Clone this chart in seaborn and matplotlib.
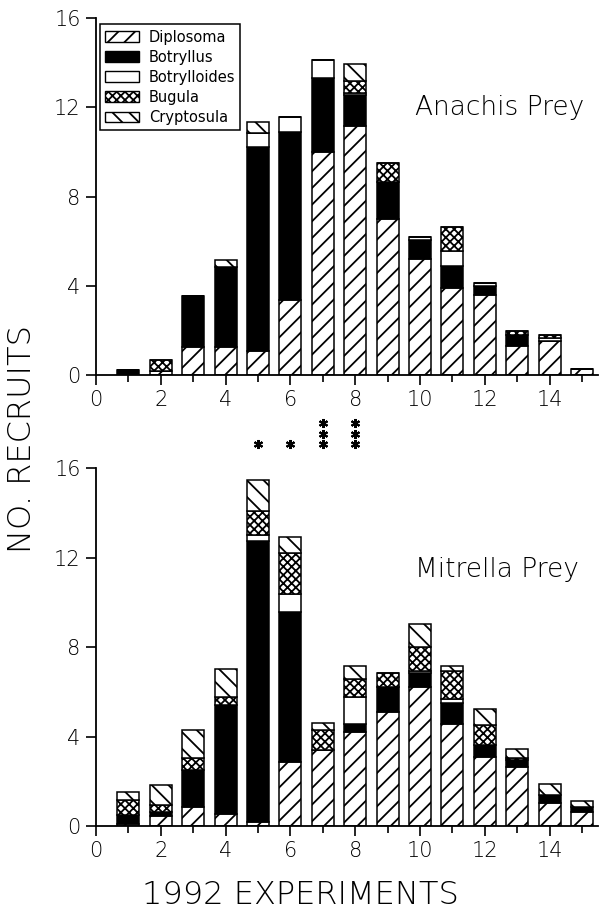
import numpy as np
import pandas as pd
import matplotlib
matplotlib.use("Agg")
import matplotlib.pyplot as plt
import matplotlib.patches as mpatches
from matplotlib.ticker import MultipleLocator
import seaborn as sns

# experiment number 1..15
experiments = [1, 2, 3, 4, 5, 6, 7, 8, 9, 10, 11, 12, 13, 14, 15]
taxa = ["Diplosoma", "Botryllus", "Botrylloides", "Bugula", "Cryptosula"]

# Anachis prey (top panel)
anachis_diplosoma = [0, 0.2, 1.25, 1.25, 1.1, 3.35, 10.0, 11.15, 7.0, 5.2, 3.9, 3.6, 1.3, 1.55, 0.27]
anachis_botryllus = [0.25, 0, 2.3, 3.6, 9.1, 7.55, 3.3, 1.4, 1.65, 0.85, 1.0, 0.4, 0.5, 0, 0]
anachis_botrylloides = [0, 0, 0, 0, 0.65, 0.65, 0.8, 0.1, 0, 0.15, 0.65, 0.15, 0, 0.1, 0]
anachis_bugula = [0, 0.47, 0, 0, 0, 0, 0, 0.55, 0.85, 0, 1.1, 0, 0.2, 0.15, 0]
anachis_cryptosula = [0, 0, 0, 0.33, 0.5, 0, 0, 0.75, 0, 0, 0, 0, 0, 0, 0]

# Mitrella prey (bottom panel)
mitrella_diplosoma = [0.1, 0.45, 0.85, 0.55, 0.2, 2.85, 3.4, 4.2, 5.1, 6.2, 4.55, 3.1, 2.65, 1.05, 0.65]
mitrella_botryllus = [0.4, 0.2, 1.65, 4.85, 12.55, 6.7, 0, 0.35, 1.1, 0.65, 0.95, 0.5, 0.3, 0.35, 0.2]
mitrella_botrylloides = [0, 0, 0, 0, 0.25, 0.8, 0, 1.2, 0, 0.1, 0.2, 0, 0, 0, 0]
mitrella_bugula = [0.65, 0.3, 0.55, 0.35, 1.1, 1.85, 0.9, 0.8, 0.65, 1.05, 1.25, 0.9, 0.1, 0, 0]
mitrella_cryptosula = [0.35, 0.9, 1.25, 1.25, 1.35, 0.7, 0.3, 0.6, 0, 1.05, 0.2, 0.75, 0.4, 0.5, 0.25]

# significance stars between panels
sig_experiments = [5, 6, 7, 8]
sig_stars = [1, 1, 3, 3]

anachis = pd.DataFrame({"exp": experiments, "Diplosoma": anachis_diplosoma,
                        "Botryllus": anachis_botryllus, "Botrylloides": anachis_botrylloides,
                        "Bugula": anachis_bugula, "Cryptosula": anachis_cryptosula})
mitrella = pd.DataFrame({"exp": experiments, "Diplosoma": mitrella_diplosoma,
                         "Botryllus": mitrella_botryllus, "Botrylloides": mitrella_botrylloides,
                         "Bugula": mitrella_bugula, "Cryptosula": mitrella_cryptosula})

styles = {
    "Diplosoma": dict(color="white", hatch="//"),
    "Botryllus": dict(color="black", hatch=None),
    "Botrylloides": dict(color="white", hatch=None),
    "Bugula": dict(color="white", hatch="xxxx"),
    "Cryptosula": dict(color="white", hatch="\\\\"),
}

sns.set_style("ticks")
plt.rcParams["font.family"] = ["DejaVu Sans"]
plt.rcParams["hatch.linewidth"] = 1.3
plt.rcParams["hatch.color"] = "black"
for k in ["text.color", "axes.labelcolor", "xtick.color", "ytick.color"]:
    plt.rcParams[k] = "black"

fig = plt.figure(figsize=(6, 9.24), dpi=100)
ax1 = fig.add_axes([0.16, 0.594, 0.837, 0.3865])
ax2 = fig.add_axes([0.16, 0.106, 0.837, 0.3875])


def stacked(ax, df):
    bottom = np.zeros(len(df))
    for t in taxa:
        st = styles[t]
        sns.barplot(x=df["exp"], y=df[t], bottom=bottom, native_scale=True,
                    width=0.68, color=st["color"], hatch=st["hatch"],
                    edgecolor="black", linewidth=1.1, saturation=1,
                    errorbar=None, ax=ax)
        bottom = bottom + df[t].values


stacked(ax1, anachis)
stacked(ax2, mitrella)

for ax in (ax1, ax2):
    ax.set_xlim(0, 15.5)
    ax.set_ylim(0, 16)
    ax.xaxis.set_major_locator(MultipleLocator(2))
    ax.xaxis.set_minor_locator(MultipleLocator(1))
    ax.yaxis.set_major_locator(MultipleLocator(4))
    ax.tick_params(axis="both", which="major", direction="out", length=7, width=1.2,
                   labelsize=15, pad=4)
    ax.tick_params(axis="x", which="minor", direction="out", length=5, width=1.2)
    for s in ["top", "right"]:
        ax.spines[s].set_visible(False)
    for s in ["left", "bottom"]:
        ax.spines[s].set_linewidth(1.3)
        ax.spines[s].set_color("black")
    ax.set_xlabel("")
    ax.set_ylabel("")
    for lab in ax.get_xticklabels() + ax.get_yticklabels():
        lab.set_fontweight("light")

ax1.text(9.85, 12.0, "Anachis Prey", fontsize=19, fontweight="light", va="center", ha="left")
ax2.text(9.85, 11.45, "Mitrella Prey", fontsize=19, fontweight="light", va="center", ha="left")

# stars below the top panel
for xe, n in zip(sig_experiments, sig_stars):
    ys = [-3.1 + 0.47 * k for k in range(n)]
    ax1.plot([xe] * n, ys, linestyle="none", marker=(6, 2, 0), markersize=6.5,
             markeredgewidth=1.5, color="black", clip_on=False)

handles = [mpatches.Patch(facecolor=styles[t]["color"], hatch=styles[t]["hatch"],
                          edgecolor="black", linewidth=1.0, label=t) for t in taxa]
leg = ax1.legend(handles=handles, loc="upper left", bbox_to_anchor=(0.008, 0.982),
                 borderaxespad=0, fontsize=10.5, frameon=True, fancybox=False,
                 handlelength=2.3, handleheight=0.75, labelspacing=0.35,
                 borderpad=0.35, handletextpad=0.7)
leg.get_frame().set_edgecolor("black")
leg.get_frame().set_linewidth(1.1)
leg.get_frame().set_alpha(1)

fig.text(22 / 600, 1 - 439 / 924, "NO. RECRUITS", rotation=90, fontsize=23,
         fontweight="light", va="center", ha="center")
fig.text(300 / 600, 1 - 895 / 924, "1992 EXPERIMENTS", fontsize=23,
         fontweight="light", va="center", ha="center")

fig.savefig("out.png", dpi=100)
